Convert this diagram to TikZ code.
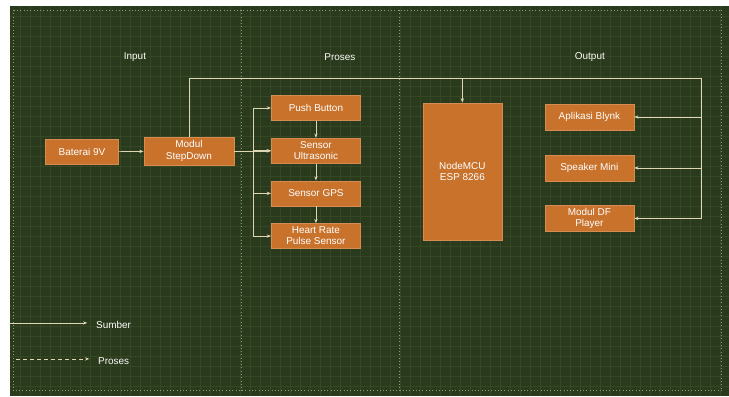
\documentclass[tikz,border=0pt]{standalone}
\usepackage{fontspec}
\setmainfont{Liberation Sans}
\usetikzlibrary{arrows.meta,positioning}
\definecolor{boardbg}{RGB}{42,58,28}
\definecolor{gridcol}{RGB}{54,71,38}
\definecolor{blockfill}{RGB}{200,114,44}
\definecolor{blockedge}{RGB}{214,140,80}
\definecolor{wirecol}{RGB}{222,214,180}

\begin{document}
\begin{tikzpicture}[
    x=0.03cm, y=-0.03cm,
    font=\fontsize{8.5}{9.5}\selectfont,
    block/.style={draw=blockedge, fill=blockfill, text=white, align=center, minimum width=2.67cm, minimum height=0.78cm, inner sep=1pt, line width=0.6pt},
    wire/.style={draw=wirecol, line width=0.6pt},
    arrow/.style={wire, -{Stealth[length=1.3mm]}},
    divider/.style={draw=wirecol!60!boardbg, dotted, line width=0.8pt},
    title/.style={text=white!90!wirecol},
    node distance=0.51cm
]
% board
\fill[white] (0,0) rectangle (729,396);
\fill[boardbg] (10,6) rectangle (729,396);
\foreach \gx in {20,30,...,720}
  \draw[gridcol, line width=0.3pt] (\gx,6) -- (\gx,396);
\foreach \gy in {16,26,...,386}
  \draw[gridcol, line width=0.3pt] (10,\gy) -- (729,\gy);
\draw[divider] (13,10) rectangle (722,391);
\draw[divider] (242,10) -- (242,391);
\draw[divider] (400,10) -- (400,391);

% section titles
\node[title] (tin) at (135,57) {Input};
\node[title] (tproc) at (340,57) {Proses};
\node[title] (tout) at (590,57) {Output};

% input
\node[block, minimum width=2.19cm, minimum height=0.75cm] (bat) at (82,152) {Baterai 9V};
\node[block, minimum width=2.7cm, minimum height=0.84cm] (step) at (189,151) {Modul\\StepDown};

% proses
\node[block, minimum height=0.75cm] (push) at (316,108) {Push Button};
\node[block, minimum height=0.75cm, below=of push] (ultra) {Sensor\\Ultrasonic};
\node[block, minimum height=0.75cm, below=of ultra] (gps) {Sensor GPS};
\node[block, minimum height=0.75cm, below=of gps] (heart) {Heart Rate\\Pulse Sensor};
\node[block, minimum width=2.37cm, minimum height=4.11cm] (mcu) at (462.5,171.5) {NodeMCU\\ESP 8266};

% output
\node[block] (blynk) at (589.5,117) {Aplikasi Blynk};
\node[block] (spk) at (589.5,168) {Speaker Mini};
\node[block] (dfp) at (589.5,218.5) {Modul DF\\Player};

% connections
\coordinate (bus) at (253,0);
\coordinate (top) at (702,78);
\draw[arrow] (bat) -- (step);
\draw[arrow] (step.east) -- (step.east -| ultra.west);
\draw[wire] (bus |- push) -- (bus |- heart);
\foreach \s in {push,ultra,gps,heart}
  \draw[arrow] (bus |- \s) -- (\s.west);
\foreach \a/\b in {push/ultra, ultra/gps, gps/heart}
  \draw[arrow] (\a) -- (\b);
\draw[wire] (step.north) |- (top) -- (top |- dfp);
\draw[arrow] (mcu.north |- top) -- (mcu.north);
\foreach \o in {blynk,spk,dfp}
  \draw[arrow] (top |- \o) -- (\o.east);

% legend
\coordinate (lsum0) at (10,323);
\coordinate (lpro0) at (16,359);
\node[title, anchor=west] (lsum) at (92,325) {Sumber};
\node[title, anchor=west] (lpro) at (94,361) {Proses};
\draw[arrow, shorten >=4pt] (lsum0) -- (lsum0 -| lsum.west);
\draw[arrow, dashed, shorten >=4pt] (lpro0) -- (lpro0 -| lpro.west);
\end{tikzpicture}
\end{document}
